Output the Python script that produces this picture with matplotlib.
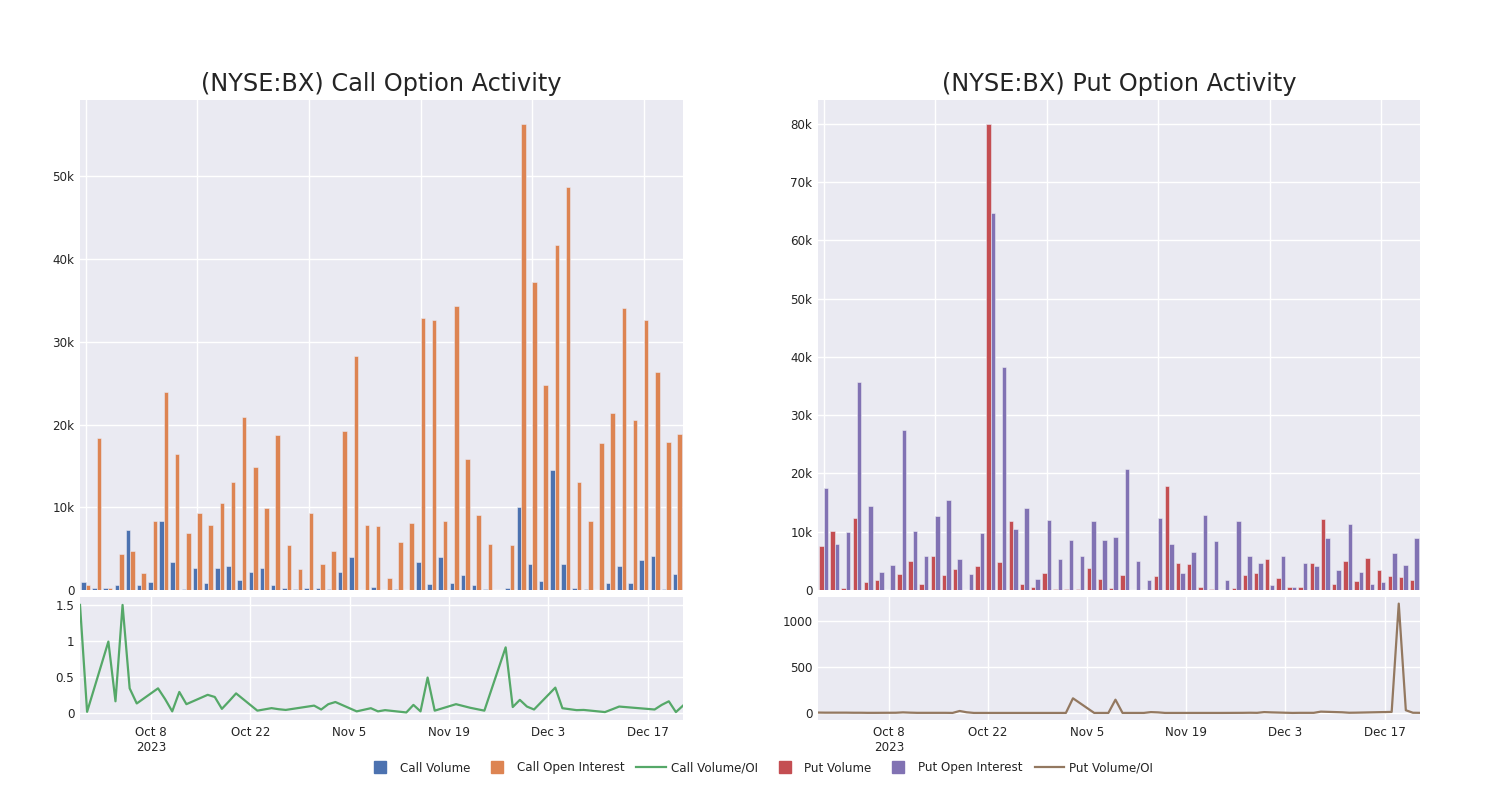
import numpy as np
import pandas as pd
import matplotlib
matplotlib.use('Agg')
import matplotlib.pyplot as plt
from matplotlib.lines import Line2D
from matplotlib.ticker import FuncFormatter, FixedLocator

# trading days shown in the chart
dates = pd.to_datetime([
    '2023-09-28', '2023-09-29', '2023-10-02', '2023-10-03', '2023-10-04', '2023-10-05',
    '2023-10-06', '2023-10-09', '2023-10-10', '2023-10-11', '2023-10-12', '2023-10-13',
    '2023-10-16', '2023-10-17', '2023-10-18', '2023-10-19', '2023-10-20', '2023-10-23',
    '2023-10-25', '2023-10-26', '2023-10-27', '2023-10-31', '2023-11-01', '2023-11-02',
    '2023-11-03', '2023-11-06', '2023-11-08', '2023-11-09', '2023-11-10', '2023-11-13',
    '2023-11-14', '2023-11-15', '2023-11-16', '2023-11-17', '2023-11-20', '2023-11-22',
    '2023-11-24', '2023-11-27', '2023-11-28', '2023-11-29', '2023-11-30', '2023-12-01',
    '2023-12-04', '2023-12-05', '2023-12-07', '2023-12-08', '2023-12-11', '2023-12-12',
    '2023-12-13', '2023-12-18', '2023-12-19', '2023-12-20', '2023-12-21', '2023-12-22'])

# values in thousands of contracts
call_volume = [1.0, 0.2, 0.3, 0.6, 7.3, 0.65, 1.0, 8.3, 3.4, 0.1, 2.7, 0.85, 2.6, 2.9, 1.2, 2.2, 2.7, 0.6,
               0.3, 0.1, 0.3, 0.2, 0.1, 2.2, 4.0, 0.05, 0.4, 0.0, 0.1, 0.0, 3.4, 0.75, 4.0, 0.9, 1.8, 0.6,
               0.1, 0.02, 0.3, 10.0, 3.1, 1.1, 14.5, 3.2, 0.3, 0.15, 0.05, 0.85, 2.9, 0.9, 3.6, 4.15, 0.1, 1.9]
call_oi = [0.6, 18.4, 0.3, 4.35, 4.7, 2.1, 8.3, 24.0, 16.5, 6.9, 9.35, 7.8, 10.5, 13.1, 20.9, 14.9, 9.9, 18.8,
           5.4, 2.5, 9.3, 3.2, 4.75, 19.2, 28.3, 7.9, 7.75, 1.4, 5.8, 8.1, 32.9, 32.7, 8.3, 34.4, 15.9, 9.1,
           5.6, 0.02, 5.5, 56.3, 37.2, 24.8, 41.7, 48.7, 13.1, 8.3, 17.8, 21.4, 34.1, 20.6, 32.6, 26.4, 17.9, 18.9]
call_ratio = [1.5, 0.014, 0.99, 0.16, 1.5, 0.34, 0.13, 0.34, 0.19, 0.02, 0.29, 0.12, 0.25, 0.22, 0.055, 0.16,
              0.27, 0.03, 0.065, 0.05, 0.04, 0.10, 0.046, 0.12, 0.15, 0.02, 0.064, 0.02, 0.037, 0.005, 0.11,
              0.02, 0.49, 0.03, 0.12, 0.07, 0.03, 0.91, 0.08, 0.18, 0.087, 0.046, 0.35, 0.064, 0.037, 0.04,
              0.01, 0.048, 0.087, 0.046, 0.11, 0.16, 0.01, 0.10]

put_volume = [7.55, 10.2, 0.4, 12.3, 1.4, 1.7, 0.05, 2.7, 5.0, 1.0, 5.8, 2.5, 3.55, 0.0, 4.1, 79.9, 4.8, 11.8,
              0.97, 0.5, 3.0, 0.1, 0.2, 0.1, 3.7, 1.9, 0.4, 2.5, 0.0, 0.0, 2.35, 17.8, 4.7, 4.4, 0.6, 0.2,
              0.0, 0.3, 2.6, 2.9, 5.3, 2.1, 0.45, 0.6, 4.6, 12.2, 1.1, 5.0, 1.6, 5.55, 3.4, 2.4, 2.3, 1.8]
put_oi = [17.5, 7.9, 9.9, 35.7, 14.5, 3.1, 4.35, 27.5, 10.1, 5.8, 12.7, 15.5, 5.3, 2.8, 9.8, 64.7, 38.2, 10.5,
          14.1, 1.9, 12.0, 5.3, 8.6, 5.8, 11.8, 8.5, 9.1, 20.8, 4.9, 1.7, 12.4, 7.9, 3.0, 6.6, 12.8, 8.35,
          1.8, 11.8, 5.8, 4.7, 0.9, 5.8, 0.6, 4.6, 4.1, 9.0, 3.4, 11.4, 3.1, 1.0, 1.3, 6.35, 4.3, 9.0]
put_ratio = [5, 4, 4, 3, 3, 2, 2, 3, 7, 4, 2, 2, 2, 1, 22, 8, 1, 1, 1, 1, 1, 1, 1, 1, 160, 1, 1, 145, 1, 1,
             10, 7, 1, 1, 1, 1, 1, 2, 3, 2, 10, 7, 1, 2, 2, 15, 8, 3, 4, 12, 1190, 30, 3, 2]

date_ticks = pd.to_datetime(['2023-10-08', '2023-10-22', '2023-11-05', '2023-11-19', '2023-12-03', '2023-12-17'])
date_labels = ['Oct 8\n2023', 'Oct 22', 'Nov 5', 'Nov 19', 'Dec 3', 'Dec 17']

BG = '#EAEAF2'
TXT = '#242424'
c_blue, c_orange, c_green = '#4C72B0', '#DD8452', '#55A868'
c_red, c_purple, c_brown = '#C44E52', '#8172B3', '#937860'

plt.rcParams['font.family'] = ['DejaVu Sans']
fig = plt.figure(figsize=(15, 8), dpi=100)
W, H = 1500, 800


def px_axes(x0, y0, x1, y1):
    return fig.add_axes([x0 / W, 1 - y1 / H, (x1 - x0) / W, (y1 - y0) / H])


def style(ax):
    ax.set_facecolor(BG)
    for s in ax.spines.values():
        s.set_visible(False)
    ax.grid(True, color='white', linewidth=1.0)
    ax.set_axisbelow(True)
    ax.tick_params(length=0, labelsize=8.6, labelcolor=TXT, pad=4)


kfmt = FuncFormatter(lambda v, p: '0' if v == 0 else '%dk' % round(v))
x = np.arange(len(dates))

panels = [
    (80, 683, call_volume, call_oi, call_ratio, c_blue, c_orange, c_green, 59.25, [0, 10, 20, 30, 40, 50],
     (-0.1, 1.61), [0, 0.5, 1, 1.5], '(NYSE:BX) Call Option Activity'),
    (818, 1420, put_volume, put_oi, put_ratio, c_red, c_purple, c_brown, 84.1, [0, 10, 20, 30, 40, 50, 60, 70, 80],
     (-76, 1262), [0, 500, 1000], '(NYSE:BX) Put Option Activity'),
]

for x0, x1, vol, oi, ratio, cv, co, cr, ytop, yt, rlim, rt, title in panels:
    top = px_axes(x0, 100, x1, 590)
    style(top)
    top.bar(x - 0.2, vol, width=0.4, color=cv, edgecolor=BG, linewidth=0.4)
    top.bar(x + 0.2, oi, width=0.4, color=co, edgecolor=BG, linewidth=0.4)
    top.set_xlim(-0.5, len(dates) - 0.5)
    top.set_ylim(0, ytop)
    top.xaxis.set_major_locator(FixedLocator([0, 10, 20, 30, 40, 50]))
    top.set_xticklabels([])
    top.yaxis.set_major_locator(FixedLocator(yt))
    top.yaxis.set_major_formatter(kfmt)

    bot = px_axes(x0, 597, x1, 720)
    style(bot)
    bot.plot(dates, ratio, color=cr, linewidth=1.6)
    bot.set_xlim(dates[0], dates[-1])
    bot.set_ylim(*rlim)
    bot.set_xticks(date_ticks)
    bot.set_xticklabels(date_labels)
    bot.set_yticks(rt)
    bot.yaxis.set_major_formatter(FuncFormatter(lambda v, p: '%g' % v))

    fig.text((x0 + x1) / 2 / W, 1 - 84 / H, title, ha='center', va='center', fontsize=17.3, color=TXT)

handles = [
    Line2D([], [], marker='s', linestyle='none', markersize=8.5, color=c_blue),
    Line2D([], [], marker='s', linestyle='none', markersize=8.5, color=c_orange),
    Line2D([], [], color=c_green, linewidth=1.6),
    Line2D([], [], marker='s', linestyle='none', markersize=8.5, color=c_red),
    Line2D([], [], marker='s', linestyle='none', markersize=8.5, color=c_purple),
    Line2D([], [], color=c_brown, linewidth=1.6),
]
labels = ['Call Volume', 'Call Open Interest', 'Call Volume/OI', 'Put Volume', 'Put Open Interest', 'Put Volume/OI']
fig.legend(handles, labels, loc='center', bbox_to_anchor=(0.506, 1 - 768 / H), ncol=6, frameon=False,
           fontsize=8.6, labelcolor=TXT, handlelength=2.5, handletextpad=0.4, columnspacing=1.0)

fig.savefig('out.png', dpi=100)
